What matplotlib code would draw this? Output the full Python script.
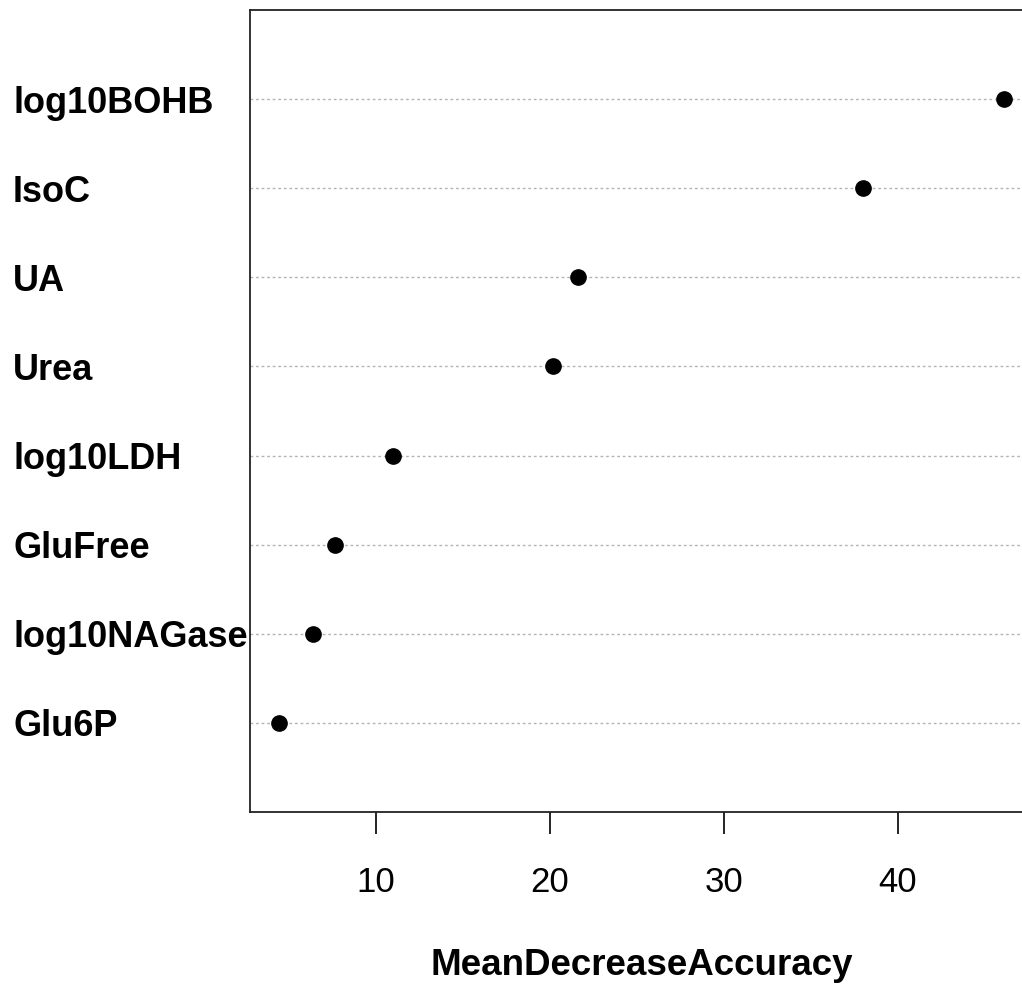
import matplotlib
matplotlib.use("Agg")
import matplotlib.pyplot as plt

# variable importance (randomForest varImpPlot style)
variables = ["Glu6P", "log10NAGase", "GluFree", "log10LDH", "Urea", "UA", "IsoC", "log10BOHB"]
mean_decrease_accuracy = [4.44, 6.38, 7.64, 10.98, 20.17, 21.6, 38.0, 46.09]
xticks = [10, 20, 30, 40]

plt.rcParams['font.family'] = ['Liberation Sans', 'DejaVu Sans']

W, H = 1022, 985
fig = plt.figure(figsize=(W / 100, H / 100), dpi=100)

# axes box in pixels: left 250, right ~1033 (clipped), top 10, bottom 812
left, right, top, bottom = 250, 1033, 10, 812
ax = fig.add_axes([left / W, 1 - bottom / H, (right - left) / W, (bottom - top) / H])

ypos = list(range(1, len(variables) + 1))
lo, hi = min(mean_decrease_accuracy), max(mean_decrease_accuracy)
span = hi - lo
ax.set_xlim(lo - 0.04 * span, hi + 0.04 * span)
ax.set_ylim(0, len(variables) + 1)

for y in ypos:
    ax.axhline(y, color='#b4b4b4', linestyle=(0, (2, 2)), linewidth=1.0, zorder=1)

ax.plot(mean_decrease_accuracy, ypos, 'o', color='black', markersize=11, zorder=3)

ax.set_xticks(xticks)
ax.set_xticklabels([str(t) for t in xticks], fontsize=25)
ax.tick_params(axis='x', length=16, width=1.2, pad=23, direction='out')

ax.set_yticks(ypos)
ax.set_yticklabels(variables, fontsize=26, fontweight='bold')
ax.tick_params(axis='y', length=0, pad=(left - 13) * 0.72)
for lab in ax.get_yticklabels():
    lab.set_horizontalalignment('left')

ax.set_xlabel('MeanDecreaseAccuracy', fontsize=26.5, fontweight='bold', labelpad=35)

for s in ax.spines.values():
    s.set_linewidth(1.3)
    s.set_color('#222222')

fig.savefig('out.png', dpi=100)
